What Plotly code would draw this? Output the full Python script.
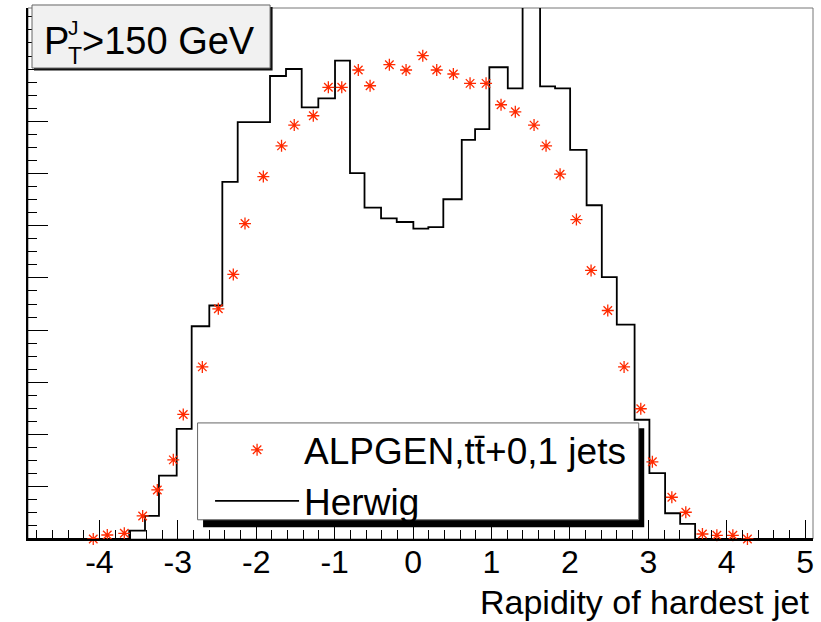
import plotly.graph_objects as go

# ---------------- data ----------------
# Herwig histogram: bin edges (rapidity) and bin contents (arbitrary units, y-axis unlabeled)
herwig_edges = [-4.91, -3.619, -3.418, -3.240, -3.014, -2.823, -2.598, -2.432, -2.236,
                -1.824, -1.620, -1.420, -1.208, -0.995, -0.804, -0.619, -0.408, -0.208,
                0.004, 0.195, 0.386, 0.621, 0.791, 0.973, 1.208, 1.397, 1.620, 1.811,
                2.003, 2.213, 2.407, 2.598, 2.825, 3.014, 3.214, 3.406, 3.597, 5.10]
herwig_vals = [0.0, 0.159, 0.441, 1.215, 2.111, 4.075, 4.472, 6.839, 7.985,
               8.868, 9.002, 8.267, 8.440, 9.161, 7.006, 6.347, 6.142, 6.071,
               5.944, 5.975, 6.507, 7.645, 7.850, 9.035, 8.631, 10.6, 8.670, 8.631,
               7.453, 6.392, 5.015, 4.107, 2.284, 1.261, 0.493, 0.288, 0.0]

# ALPGEN tt+0,1 jets points
alpgen_x = [-4.078, -3.899, -3.682, -3.448, -3.261, -3.057, -2.930, -2.687, -2.483, -2.292,
            -2.143, -1.909, -1.677, -1.515, -1.272, -1.080, -0.909, -0.698, -0.548, -0.302,
            -0.089, 0.124, 0.302, 0.514, 0.727, 0.931, 1.122, 1.304, 1.543, 1.696,
            1.875, 2.083, 2.270, 2.483, 2.691, 2.904, 3.052, 3.300, 3.478, 3.690,
            3.874, 4.078, 4.264]
alpgen_y = [0.0, 0.077, 0.109, 0.441, 0.940, 1.516, 2.386, 3.296, 4.409, 5.067,
            6.042, 6.942, 7.530, 7.927, 8.106, 8.651, 8.651, 8.983, 8.681, 9.084,
            8.983, 9.257, 8.983, 8.906, 8.727, 8.727, 8.317, 8.182, 7.927, 7.530,
            6.987, 6.117, 5.144, 4.376, 3.296, 2.495, 1.478, 0.800, 0.512, 0.096,
            0.071, 0.071, 0.0]

x_tickvals = [-4, -3, -2, -1, 0, 1, 2, 3, 4, 5]
x_ticktext = ["-4", "-3", "-2", "-1", "0", "1", "2", "3", "4", "5"]

x_range = [-4.91, 5.10]
y_range = [0, 10.17]

# ---------------- layout geometry (pixels) ----------------
WIDTH, HEIGHT = 821, 622
L, R, T, B = 28, 812.7, 8, 538.7
PW, PH = R - L, B - T


def px(xp):
    return (xp - L) / PW


def py(yp):
    return (B - yp) / PH


FONT = "Liberation Sans, Arial, Helvetica, sans-serif"
RED = "#ff2a00"

fig = go.Figure()

fig.add_trace(go.Scatter(
    x=herwig_edges, y=herwig_vals + [herwig_vals[-1]],
    mode="lines", line=dict(color="black", width=1.8, shape="hv"),
    name="Herwig",
))

fig.add_trace(go.Scatter(
    x=alpgen_x, y=alpgen_y, mode="markers",
    marker=dict(symbol="asterisk-open", size=10, color=RED,
                line=dict(color=RED, width=1.3)),
    name="ALPGEN,tt\u0304+0,1 jets",
    cliponaxis=False,
))

shapes = []
# plot frame (top / right in grey)
shapes.append(dict(type="rect", xref="paper", yref="paper", x0=0, x1=1, y0=0, y1=1,
                   line=dict(color="#777", width=1), layer="below"))
# title box shadow + box
shapes.append(dict(type="rect", xref="paper", yref="paper",
                   x0=px(34), x1=px(272.5), y0=py(70.5), y1=py(7),
                   fillcolor="#111", line=dict(width=0), layer="above"))
shapes.append(dict(type="rect", xref="paper", yref="paper",
                   x0=px(32), x1=px(270), y0=py(68), y1=py(5),
                   fillcolor="#f1f1f1", line=dict(color="#666", width=1), layer="above"))
# legend box shadow + box
shapes.append(dict(type="rect", xref="paper", yref="paper",
                   x0=px(203), x1=px(644), y0=py(527), y1=py(428),
                   fillcolor="black", line=dict(width=0), layer="above"))
shapes.append(dict(type="rect", xref="paper", yref="paper",
                   x0=px(197.5), x1=px(638.5), y0=py(519.5), y1=py(422.7),
                   fillcolor="white", line=dict(color="#666", width=1), layer="above"))

annotations = [
    dict(text="P", x=px(42), y=py(41), xref="paper", yref="paper",
         xanchor="left", yanchor="middle", showarrow=False,
         font=dict(family=FONT, size=38, color="black")),
    dict(text="J", x=px(66), y=py(27), xref="paper", yref="paper",
         xanchor="left", yanchor="middle", showarrow=False,
         font=dict(family=FONT, size=21, color="black")),
    dict(text="T", x=px(66), y=py(56), xref="paper", yref="paper",
         xanchor="left", yanchor="middle", showarrow=False,
         font=dict(family=FONT, size=23, color="black")),
    dict(text=">150 GeV", x=px(80), y=py(41), xref="paper", yref="paper",
         xanchor="left", yanchor="middle", showarrow=False,
         font=dict(family=FONT, size=38, color="black")),
    dict(text="Rapidity of hardest jet", x=px(811), y=py(602), xref="paper", yref="paper",
         xanchor="right", yanchor="middle", showarrow=False,
         font=dict(family=FONT, size=34, color="black")),
]

fig.update_layout(
    width=WIDTH, height=HEIGHT,
    margin=dict(l=L, r=WIDTH - R, t=T, b=HEIGHT - B, pad=0),
    paper_bgcolor="white", plot_bgcolor="white",
    showlegend=True,
    legend=dict(x=px(210), y=py(419), xanchor="left", yanchor="top",
                bgcolor="rgba(0,0,0,0)", borderwidth=0, traceorder="reversed",
                font=dict(family=FONT, size=37, color="black"),
                itemwidth=84, tracegroupgap=0),
    shapes=shapes,
    annotations=annotations,
    xaxis=dict(range=x_range, tickmode="array", tickvals=x_tickvals, ticktext=x_ticktext,
               ticks="inside", ticklen=19, tickwidth=1, tickcolor="black",
               minor=dict(tickmode="linear", tick0=0, dtick=0.2, ticks="inside",
                          ticklen=9, tickwidth=1, tickcolor="black"),
               showline=True, linecolor="black", linewidth=1.5, mirror=False,
               showgrid=False, zeroline=False, ticklabelstandoff=-6,
               tickfont=dict(family=FONT, size=32, color="black")),
    yaxis=dict(range=y_range, tickmode="linear", tick0=0, dtick=1,
               ticks="inside", ticklen=20, tickwidth=1, tickcolor="black",
               minor=dict(tickmode="linear", tick0=0, dtick=0.25, ticks="inside",
                          ticklen=9, tickwidth=1, tickcolor="black"),
               showticklabels=False,
               showline=True, linecolor="black", linewidth=1.5, mirror=False,
               showgrid=False, zeroline=False),
)

fig.write_html("out.html")
